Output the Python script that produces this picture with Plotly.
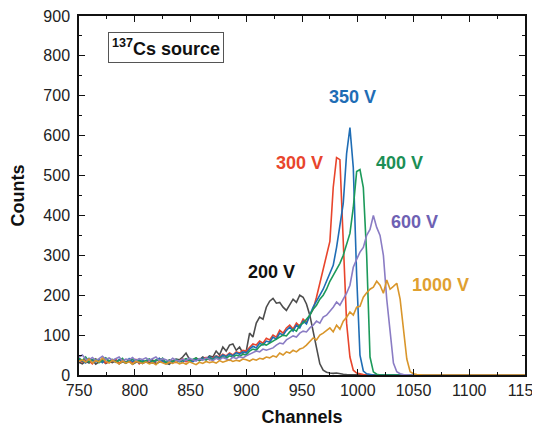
import plotly.graph_objects as go

channels = list(range(750, 1060, 3)) + [1070, 1080, 1090, 1100, 1110, 1120, 1130, 1140, 1150]

counts_200V = [32, 28, 35, 30, 38, 27, 33, 36, 29, 34,
               31, 37, 28, 33, 30, 35, 27, 32, 36, 29,
               34, 30, 38, 28, 33, 36, 30, 27, 35, 40,
               38, 45, 55, 40, 36, 42, 38, 45, 40, 48,
               45, 60, 50, 70, 60, 75, 78, 62, 70, 55,
               60, 105, 95, 130, 145, 140, 170, 185, 192, 180,
               182, 170, 162, 175, 190, 182, 200, 195, 178, 150,
               110, 70, 28, 12, 7, 5, 4, 5, 3, 2,
               1, 1, 0, 0, 0, 0, 0, 0, 0, 0,
               0, 0, 0, 0, 0, 0, 0, 0, 0, 0,
               0, 0, 0, 0,
               0, 0, 0, 0, 0, 0, 0, 0, 0]

counts_300V = [38, 32, 42, 35, 28, 40, 33, 37, 30, 36,
               34, 40, 29, 38, 33, 35, 31, 39, 28, 36,
               32, 37, 30, 35, 41, 33, 29, 38, 34, 31,
               36, 40, 33, 38, 35, 42, 37, 40, 44, 38,
               42, 48, 45, 52, 48, 55, 50, 58, 55, 62,
               60, 70, 78, 75, 85, 80, 92, 88, 100, 95,
               112, 105, 118, 125, 115, 130, 122, 140, 132, 150,
               165, 195, 230, 260, 300, 335, 470, 545, 540, 330,
               130, 45, 12, 5, 2, 1, 0, 0, 0, 0,
               0, 0, 0, 0, 0, 0, 0, 0, 0, 0,
               0, 0, 0, 0,
               0, 0, 0, 0, 0, 0, 0, 0, 0]

counts_350V = [40, 35, 30, 42, 36, 33, 38, 31, 40, 34,
               37, 32, 39, 35, 30, 41, 34, 38, 30, 36,
               33, 39, 31, 36, 42, 34, 30, 37, 32, 38,
               35, 32, 40, 37, 33, 39, 36, 42, 38, 45,
               40, 47, 43, 50, 46, 53, 48, 56, 52, 58,
               55, 65, 72, 68, 80, 75, 85, 82, 95, 90,
               105, 100, 112, 120, 110, 125, 118, 135, 128, 150,
               170, 185, 200, 215, 235, 255, 275, 320, 370, 430,
               555, 620, 520, 250, 50, 10, 3, 1, 0, 0,
               0, 0, 0, 0, 0, 0, 0, 0, 0, 0,
               0, 0, 0, 0,
               0, 0, 0, 0, 0, 0, 0, 0, 0]

counts_400V = [42, 36, 45, 33, 38, 40, 31, 37, 43, 35,
               39, 33, 36, 42, 30, 37, 40, 34, 38, 32,
               36, 40, 33, 38, 35, 42, 31, 37, 34, 39,
               33, 37, 41, 35, 39, 43, 36, 40, 38, 42,
               38, 44, 40, 46, 42, 48, 45, 50, 47, 52,
               50, 60, 65, 62, 72, 78, 75, 80, 83, 90,
               95, 100, 98, 108, 115, 110, 125, 130, 140, 150,
               165, 175, 190, 200, 215, 235, 250, 265, 280, 300,
               330, 355, 420, 510, 515, 470, 300, 45, 8, 2,
               0, 0, 0, 0, 0, 0, 0, 0, 0, 0,
               0, 0, 0, 0,
               0, 0, 0, 0, 0, 0, 0, 0, 0]

counts_600V = [45, 50, 40, 38, 44, 36, 41, 47, 39, 43,
               37, 42, 45, 35, 40, 38, 44, 36, 41, 39,
               43, 37, 40, 45, 36, 41, 38, 34, 42, 37,
               35, 40, 36, 42, 38, 35, 41, 37, 43, 39,
               36, 42, 38, 44, 40, 37, 45, 41, 46, 43,
               48, 52, 55, 60, 58, 65, 62, 66, 68, 75,
               80, 78, 88, 93, 98, 95, 105, 110, 108, 118,
               125, 135, 130, 145, 150, 160, 170, 183, 175, 190,
               205, 225, 270, 290, 308, 320, 350, 365, 400, 370,
               350, 300, 190, 110, 30, 8, 3, 1, 0, 0,
               0, 0, 0, 0,
               0, 0, 0, 0, 0, 0, 0, 0, 0]

counts_1000V = [35, 38, 32, 40, 30, 36, 33, 42, 34, 30,
                37, 32, 28, 35, 30, 33, 27, 34, 31, 29,
                33, 28, 31, 26, 34, 30, 27, 32, 29, 33,
                28, 31, 27, 33, 30, 26, 32, 29, 34, 31,
                33, 30, 36, 32, 35, 38, 34, 37, 35, 40,
                38, 35, 40, 37, 42, 40, 45, 43, 48, 45,
                55, 50, 58, 55, 62, 58, 65, 68, 75, 85,
                93, 88, 100, 105, 112, 118, 108, 125, 115, 135,
                145, 158, 150, 170, 172, 195, 206, 215, 220, 235,
                225, 205, 238, 215, 222, 230, 190, 110, 40, 8,
                3, 1, 0, 0,
                0, 0, 0, 0, 0, 0, 0, 0, 0]

series_names = ["200 V", "300 V", "350 V", "400 V", "600 V", "1000 V"]
series_values = [counts_200V, counts_300V, counts_350V, counts_400V, counts_600V, counts_1000V]
line_colors = ["#4d4d4d", "#e8452c", "#1f6db5", "#1c9a5a", "#8a7cc4", "#d9962b"]
label_colors = ["#111111", "#e8452c", "#1f6db5", "#1c8f55", "#6e61b3", "#e0a030"]
label_x = [923, 948, 995, 1037, 1051, 1074]
label_y = [258, 531, 697, 531, 383, 225]

FONT = "Liberation Sans, Arial, sans-serif"

fig = go.Figure()
for name, vals, col in zip(series_names, series_values, line_colors):
    fig.add_trace(go.Scatter(x=channels, y=vals, mode="lines", name=name,
                             line=dict(color=col, width=1.6), showlegend=False))

for name, lx, ly, lc in zip(series_names, label_x, label_y, label_colors):
    fig.add_annotation(x=lx, y=ly, text="<b>%s</b>" % name, showarrow=False,
                       font=dict(family=FONT, size=18, color=lc))

fig.add_annotation(x=828, y=822, text="<b><sup>137</sup>Cs source</b>", showarrow=False,
                   font=dict(family=FONT, size=18, color="#111111"),
                   bordercolor="#555555", borderwidth=1, borderpad=3, bgcolor="white")

axis_common = dict(showline=True, linecolor="#111111", linewidth=1.5, mirror="ticks",
                   ticks="inside", ticklen=6, tickwidth=1.3, tickcolor="#111111",
                   showgrid=False, zeroline=False, automargin=False,
                   ticklabeloverflow="allow",
                   tickfont=dict(family=FONT, size=16, color="#222222"))

fig.update_xaxes(range=[750, 1150], dtick=50, tick0=750,
                 minor=dict(ticks="inside", ticklen=3, dtick=25, tick0=750, tickcolor="#111111", showgrid=False),
                 title=dict(text="<b>Channels</b>", font=dict(family=FONT, size=18, color="#111111"), standoff=12),
                 **axis_common)
fig.update_yaxes(range=[0, 900], dtick=100, ticklabelstandoff=4,
                 minor=dict(ticks="inside", ticklen=3, dtick=50, tickcolor="#111111", showgrid=False),
                 title=dict(text="<b>Counts</b>", font=dict(family=FONT, size=18, color="#111111"), standoff=14),
                 **axis_common)

# the page body adds an 8 px offset, so the figure is sized to fill the rest of the window
fig.update_layout(width=532, height=421, plot_bgcolor="white", paper_bgcolor="white",
                  margin=dict(l=71, r=15, t=8, b=54))

fig.write_html("out.html")
